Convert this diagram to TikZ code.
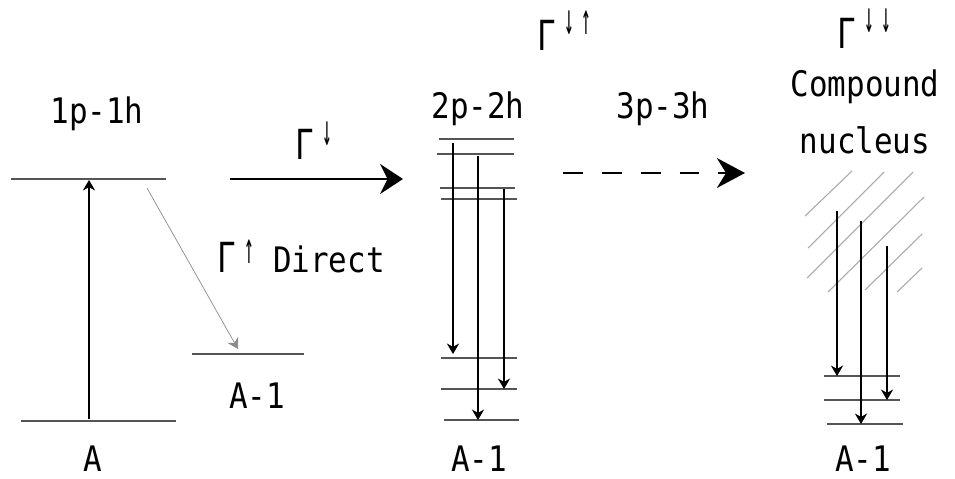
\documentclass[tikz,border=0pt]{standalone}
\usepackage{fontspec}
\usepackage{tikz}
\usetikzlibrary{arrows.meta}
\newfontfamily\gothfont[FakeStretch=0.88]{DejaVu Sans Mono}
\definecolor{lvlgray}{HTML}{555555}
\definecolor{hatchgray}{HTML}{A8A8A8}
\definecolor{thingray}{HTML}{8A8A8A}
\tikzset{
  level/.style={lvlgray,line width=0.7pt},
  decay/.style={line width=0.6pt,-{Stealth[length=6pt,width=7pt]}},
  lbl/.style={font=\gothfont\fontsize{20}{32}\selectfont,inner sep=0pt,text depth=0pt},
}
% tall Gamma and its little arrows
\newcommand{\gam}{\scalebox{1}[1.18]{Γ}\hspace{3pt}}
\newcommand{\gar}[2][6.5pt]{\makebox[9.6pt]{\raisebox{#1}{\fontsize{25}{25}\selectfont\scalebox{0.42}[1]{#2}}}}

\begin{document}
\begin{tikzpicture}[x=0.02cm,y=-0.02cm]
  \useasboundingbox (0,0) rectangle (955,478);
  % levels
  \draw[level] (11,179) -- (166,179);
  \draw[level] (21,421) -- (176,421);
  \draw[level] (192,354) -- (304,354);
  \foreach \ya/\xa/\xb in {139/439/514,154/437/514,188/440/515,199/441/517,
                           358/441/517,389/441/517,420/444/519}
    \draw[level] (\xa,\ya) -- (\xb,\ya);
  \foreach \ya/\xa/\xb in {376/824/900,400/824/900,424/827/903}
    \draw[level] (\xa,\ya) -- (\xb,\ya);
  % hatch
  \foreach \xa/\ya/\xb/\yb in {805/216/852/171,808/248/884/172,807/278/913/172,
                               828/292/924/197,865/290/922/234,897/292/922/268}
    \draw[hatchgray,line width=0.6pt] (\xa,\ya) -- (\xb,\yb);
  % labels
  \node[lbl,anchor=base] (onep) at (97,123) {1p-1h};
  \node[lbl,anchor=base] (labA) at (93,471) {A};
  \node[lbl,anchor=base] (labB) at (257,408) {A-1};
  \node[lbl,anchor=base] (twop) at (478,118) {2p-2h};
  \node[lbl,anchor=base] (threep) at (663,118) {3p-3h};
  \node[lbl,anchor=base] (labC) at (479,471) {A-1};
  \node[lbl,anchor=base,align=center] (comp) at (865,153) {Compound\\nucleus};
  \node[lbl,anchor=base] (labD) at (863,471) {A-1};
  \node[lbl,anchor=base west] (gdir) at (217,272) {\gam\gar[5pt]{↑}\hspace{8.5pt}Direct};
  \node[lbl,anchor=base west] (gdown) at (295,159) {\gam\gar[7.5pt]{↓}};
  \node[lbl,anchor=base west] (gdu) at (537,50) {\gam\gar[9pt]{↓}\gar[9pt]{↑}};
  \node[lbl,anchor=base west] (gdd) at (837,48) {\gam\gar[9pt]{↓}\gar[9pt]{↓}};
  % arrows
  \coordinate (ex0) at (89,419);
  \coordinate (ex1) at (89,180);
  \coordinate (di0) at (147,188);
  \coordinate (di1) at (238,349);
  \coordinate (sp0) at (230,179);
  \coordinate (sp1) at (403,179);
  \coordinate (ds0) at (563,173);
  \coordinate (ds1) at (745,173);
  \draw[decay] (ex0) -- (ex1);
  \draw[thingray,line width=0.4pt,-{Stealth[length=6pt,width=7pt]}] (di0) -- (di1);
  \draw[line width=1.3pt,-{Stealth[length=13pt,width=17pt]}] (sp0) -- (sp1);
  \draw[line width=1.3pt,dash pattern=on 11.3pt off 10.8pt,
        -{Stealth[length=16pt,width=17pt]}] (ds0) -- (ds1);
  \foreach \x/\ya/\yb in {453/143/354,478/156/420,504/189/389,
                          837/211/376,861/221/424,887/246/400}
    \draw[decay] (\x,\ya) -- (\x,\yb);
\end{tikzpicture}
\end{document}
